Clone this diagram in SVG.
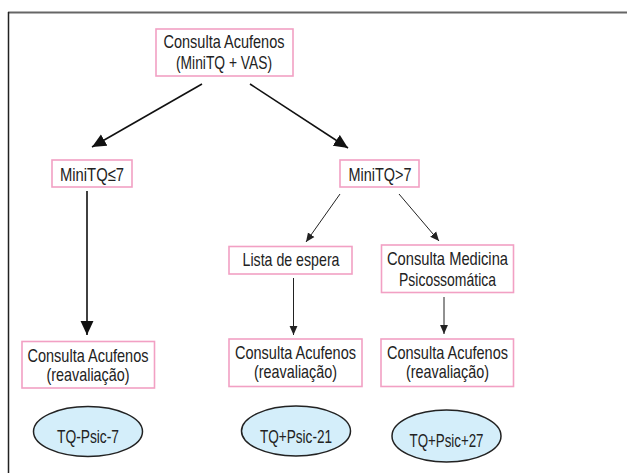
<svg xmlns="http://www.w3.org/2000/svg" width="627" height="473" viewBox="0 0 627 473">
<defs>
<style>
.box{fill:#fff;stroke:#f2a0c4;stroke-width:1.6}
.ell{fill:#d4eefa;stroke:#222;stroke-width:1.5}
text{font-family:"Liberation Sans",Arial,sans-serif;font-size:19px;fill:#222;text-anchor:middle}
.big{stroke:#111;stroke-width:1.6;fill:none}
.small{stroke:#222;stroke-width:1;fill:none}
</style>
<marker id="hb" markerUnits="userSpaceOnUse" markerWidth="14" markerHeight="14" viewBox="0 0 13 12" refX="13" refY="6" orient="auto"><path d="M0,0 L13,6 L0,12 Z" fill="#111"/></marker>
<marker id="hs" markerUnits="userSpaceOnUse" markerWidth="9" markerHeight="9" viewBox="0 0 8 7" refX="8" refY="3.5" orient="auto"><path d="M0,0 L8,3.5 L0,7 Z" fill="#222"/></marker>
</defs>
<rect width="627" height="473" fill="#fff"/>
<g id="frame">
<line x1="8" y1="12.5" x2="627" y2="12.5" stroke="#666" stroke-width="2"/>
<line x1="8.5" y1="12" x2="8.5" y2="473" stroke="#222" stroke-width="1.5"/>
</g>
<g id="connectors">
<line class="big" x1="202" y1="84" x2="92" y2="147" marker-end="url(#hb)"/>
<line class="big" x1="250" y1="84" x2="348" y2="148" marker-end="url(#hb)"/>
<line class="big" x1="87" y1="191" x2="87" y2="335" stroke-width="1.4" marker-end="url(#hb)"/>
<line class="small" x1="340" y1="194" x2="306" y2="242" marker-end="url(#hs)"/>
<line class="small" x1="399" y1="194" x2="439" y2="241" marker-end="url(#hs)"/>
<line class="small" x1="293.5" y1="278" x2="293.5" y2="335" marker-end="url(#hs)"/>
<line class="small" x1="444" y1="297" x2="444" y2="334" marker-end="url(#hs)"/>
</g>
<g id="n-top">
<rect class="box" x="156" y="29" width="137" height="47"/>
<text x="224" y="47.5" textLength="121" lengthAdjust="spacingAndGlyphs">Consulta Acufenos</text>
<text x="224" y="69" textLength="96" lengthAdjust="spacingAndGlyphs">(MiniTQ + VAS)</text>
</g>
<g id="n-le7">
<rect class="box" x="52" y="160" width="80" height="27"/>
<text x="92" y="180.5" textLength="64" lengthAdjust="spacingAndGlyphs">MiniTQ≤7</text>
</g>
<g id="n-gt7">
<rect class="box" x="340" y="160" width="79" height="27"/>
<text x="380" y="180.5" textLength="63" lengthAdjust="spacingAndGlyphs">MiniTQ&gt;7</text>
</g>
<g id="n-lista">
<rect class="box" x="229" y="246.5" width="123" height="27.5"/>
<text x="291" y="266" textLength="97" lengthAdjust="spacingAndGlyphs">Lista de espera</text>
</g>
<g id="n-medicina">
<rect class="box" x="381.5" y="245" width="132" height="47.5"/>
<text x="447.5" y="264.5" textLength="121" lengthAdjust="spacingAndGlyphs">Consulta Medicina</text>
<text x="447.5" y="285.5" textLength="97" lengthAdjust="spacingAndGlyphs">Psicossomática</text>
</g>
<g id="n-reav1">
<rect class="box" x="22" y="341.5" width="132.5" height="46.5"/>
<text x="88" y="361.5" textLength="121" lengthAdjust="spacingAndGlyphs">Consulta Acufenos</text>
<text x="88" y="380.5" textLength="83" lengthAdjust="spacingAndGlyphs">(reavaliação)</text>
</g>
<g id="n-reav2">
<rect class="box" x="229" y="339" width="133" height="47.5"/>
<text x="295.5" y="359" textLength="121" lengthAdjust="spacingAndGlyphs">Consulta Acufenos</text>
<text x="295.5" y="378" textLength="83" lengthAdjust="spacingAndGlyphs">(reavaliação)</text>
</g>
<g id="n-reav3">
<rect class="box" x="381" y="339" width="132.5" height="47.5"/>
<text x="447.5" y="359" textLength="121" lengthAdjust="spacingAndGlyphs">Consulta Acufenos</text>
<text x="447.5" y="378" textLength="83" lengthAdjust="spacingAndGlyphs">(reavaliação)</text>
</g>
<g id="e1">
<ellipse class="ell" cx="88" cy="431.5" rx="54.5" ry="25"/>
<text x="88" y="443" textLength="62" lengthAdjust="spacingAndGlyphs">TQ-Psic-7</text>
</g>
<g id="e2">
<ellipse class="ell" cx="296" cy="431" rx="54.5" ry="25"/>
<text x="296" y="442.5" textLength="72" lengthAdjust="spacingAndGlyphs">TQ+Psic-21</text>
</g>
<g id="e3">
<ellipse class="ell" cx="446.5" cy="436" rx="54.5" ry="26"/>
<text x="446.5" y="446.5" textLength="74" lengthAdjust="spacingAndGlyphs">TQ+Psic+27</text>
</g>
</svg>
